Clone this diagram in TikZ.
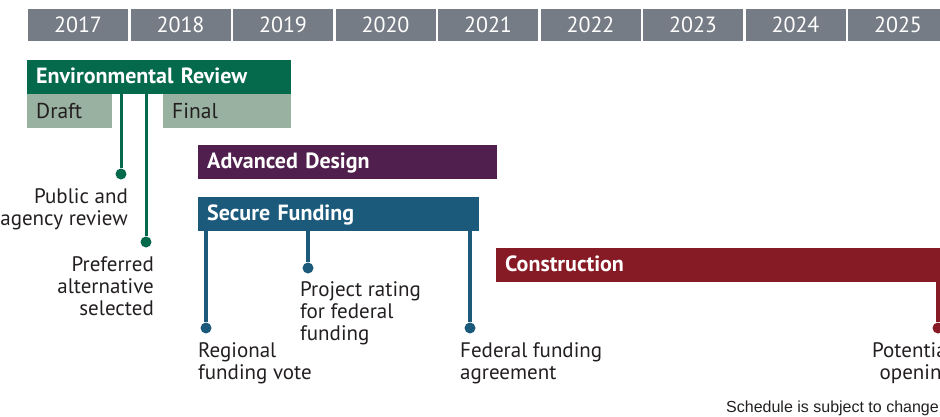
\documentclass[tikz,border=0pt]{standalone}
\usepackage{fontspec}
\setmainfont{PT Sans}
\newfontfamily\notefont{Liberation Sans}
\usetikzlibrary{positioning}
\definecolor{yeargrey}{HTML}{767C85}
\definecolor{envgreen}{HTML}{05694B}
\definecolor{palegreen}{HTML}{98B1A0}
\definecolor{designpurple}{HTML}{511F4D}
\definecolor{fundblue}{HTML}{1C5A7B}
\definecolor{buildred}{HTML}{861B25}
\definecolor{inkgrey}{HTML}{231F20}
\tikzset{
	node distance=102.5pt,
	yearbox/.style={
		rectangle,
		fill=yeargrey,
		text=white,
		minimum width=100pt,
		minimum height=32pt,
		inner sep=0pt,
		font=\fontsize{22}{24}\selectfont
	},
	phase/.style={
		rectangle,
		anchor=north west,
		text=white,
		minimum height=34pt,
		inner xsep=9pt,
		inner ysep=0pt,
		text height=15.5pt,
		text depth=2.5pt,
		font=\bfseries\fontsize{22}{24}\selectfont
	},
	subphase/.style={
		phase,
		fill=palegreen,
		text=inkgrey,
		text height=16pt,
		text depth=2pt,
		font=\fontsize{21.5}{22}\selectfont
	},
	dot/.style={
		circle,
		inner sep=0pt,
		minimum size=11pt
	},
	milestone/.style={
		inner sep=0pt,
		text=inkgrey,
		font=\fontsize{21}{21.7}\selectfont
	}
}

\begin{document}
\begin{tikzpicture}[x=1pt, y=-1pt]
		\clip (0,0) rectangle (940,416);

		% year header
		\node [yearbox] at (78,25) (y2017) {2017};
		\node [yearbox, right of=y2017] (y2018) {2018};
		\node [yearbox, right of=y2018] (y2019) {2019};
		\node [yearbox, right of=y2019] (y2020) {2020};
		\node [yearbox, right of=y2020] (y2021) {2021};
		\node [yearbox, right of=y2021] (y2022) {2022};
		\node [yearbox, right of=y2022] (y2023) {2023};
		\node [yearbox, right of=y2023] (y2024) {2024};
		\node [yearbox, right of=y2024] (y2025) {2025};

		% phases
		\node [phase, fill=envgreen, minimum width=264pt, text width=246pt] at (27,60) (envreview) {Environmental Review};
		\node [subphase, minimum width=85pt, text width=67pt] at (27,94) (draft) {Draft};
		\node [subphase, minimum width=128pt, text width=110pt] at (163,94) (final) {Final};
		\node [phase, fill=designpurple, minimum width=299pt, text width=281pt] at (198,145) (design) {Advanced Design};
		\node [phase, fill=fundblue, minimum width=281pt, text width=263pt] at (198,197) (funding) {Secure Funding};
		\node [phase, fill=buildred, minimum width=460pt, text width=442pt] at (496,248) (construction) {Construction};

		% milestone dots
		\node [dot, fill=envgreen] at (121,174) (pubdot) {};
		\node [dot, fill=envgreen] at (146,242) (prefdot) {};
		\node [dot, fill=fundblue] at (206,328) (votedot) {};
		\node [dot, fill=fundblue] at (308,268) (ratingdot) {};
		\node [dot, fill=fundblue] at (470,328) (agreedot) {};
		\node [dot, fill=buildred] at (938,328) (opendot) {};

		\draw [envgreen, line width=3pt] (pubdot) -- (pubdot |- envreview.south);
		\draw [envgreen, line width=3pt] (prefdot) -- (prefdot |- envreview.south);
		\draw [fundblue, line width=3.5pt] (votedot) -- (votedot |- funding.south);
		\draw [fundblue, line width=3.5pt] (ratingdot) -- (ratingdot |- funding.south);
		\draw [fundblue, line width=3.5pt] (agreedot) -- (agreedot |- funding.south);
		\draw [buildred, line width=3.5pt] (opendot) -- (opendot |- construction.south);

		% milestone labels
		\node [milestone, below=9pt of pubdot, anchor=north east, xshift=7pt, align=right] (pubtext) {Public and\\agency review};
		\node [milestone, below=9pt of prefdot, anchor=north east, xshift=8pt, align=right] (preftext) {Preferred\\alternative\\selected};
		\node [milestone, below=9pt of votedot, anchor=north west, xshift=-8pt, align=left] (votetext) {Regional\\funding vote};
		\node [milestone, below=8pt of ratingdot, anchor=north west, xshift=-8pt, align=left] (ratingtext) {Project rating\\for federal\\funding};
		\node [milestone, below=9pt of agreedot, anchor=north west, xshift=-10pt, align=left] (agreetext) {Federal funding\\agreement};
		\node [milestone, below=9pt of opendot, anchor=north east, xshift=15pt, align=right] (opentext) {Potential\\opening};

		\node [anchor=base east, inner sep=0pt, text=inkgrey, font=\notefont\fontsize{16}{18}\selectfont] at (939,412) (note) {Schedule is subject to change};
	\end{tikzpicture}
\end{document}
